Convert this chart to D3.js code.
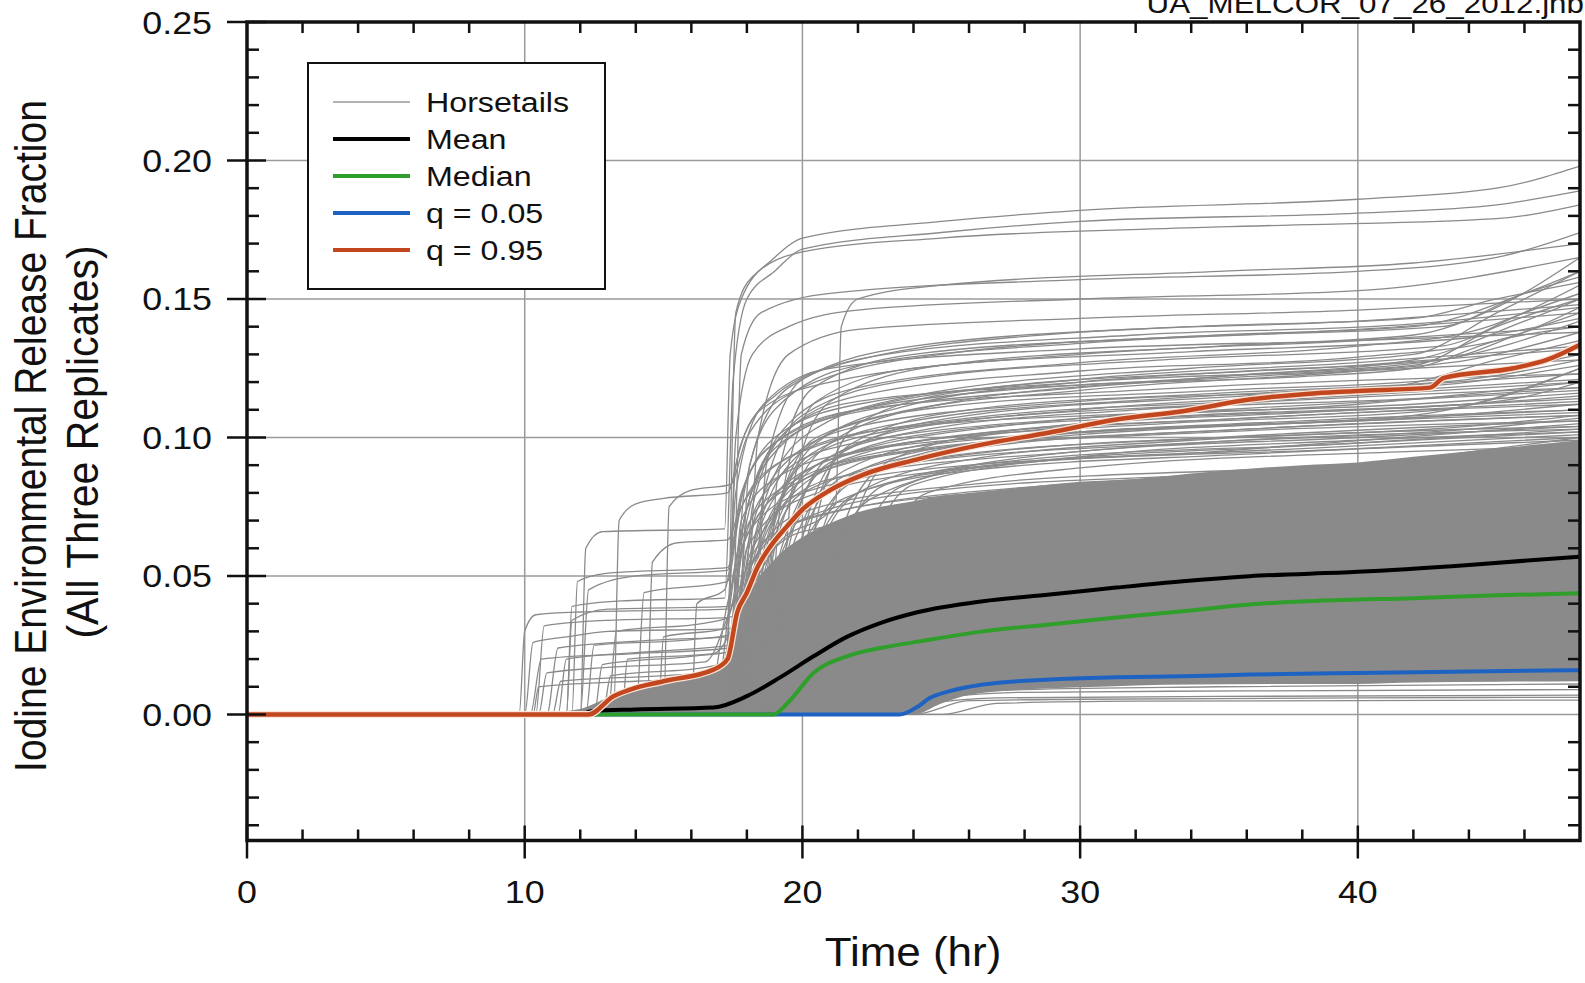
<!DOCTYPE html>
<html>
<head>
<meta charset="UTF-8">
<style>
    * { margin: 0; padding: 0; }
    body { background: #fff; width: 1585px; height: 983px; overflow: hidden; }
    text { font-family: "Liberation Sans", Arial, sans-serif; fill: #111; }
</style>
<script src="https://cdn.jsdelivr.net/npm/d3@7/dist/d3.min.js"></script>
<title>Iodine release fraction</title>
</head>
<body>
<svg id="chart" width="1585" height="983"></svg>
<script>
// ---- data ----
var xMajor = [0, 10, 20, 30, 40];
var yMajor = [0.00, 0.05, 0.10, 0.15, 0.20, 0.25];
var yLabels = ["0.00", "0.05", "0.10", "0.15", "0.20", "0.25"];
var legendNames = ["Horsetails", "Mean", "Median", "q = 0.05", "q = 0.95"];

var meanT = [0, 12, 12.4, 14, 16.8, 18, 19.2, 20.4, 21.6, 22.8, 24.1, 26.5, 28.9, 31.3, 33.7, 36.1, 40, 44, 48];
var meanV = [0, 0, 0.0012, 0.0018, 0.0025, 0.0066, 0.0134, 0.021, 0.028, 0.033, 0.0368, 0.0409, 0.0433, 0.0458, 0.0481, 0.0499, 0.0515, 0.054, 0.057];

var medianT = [0, 18.95, 19.5, 20.4, 21.6, 22.8, 24.1, 26.5, 28.9, 31.3, 33.7, 36.1, 38.5, 42, 45, 48];
var medianV = [0, 0, 0.0045, 0.015, 0.021, 0.024, 0.0262, 0.030, 0.0325, 0.035, 0.0373, 0.0397, 0.041, 0.042, 0.043, 0.0438];

var q05T = [0, 23.5, 24.1, 24.6, 25.3, 26.5, 28.9, 31.3, 33.7, 36.1, 40, 44, 48];
var q05V = [0, 0, 0.0025, 0.006, 0.0084, 0.0108, 0.0126, 0.0134, 0.0138, 0.0144, 0.015, 0.0155, 0.016];

var q95T = [0, 12.3, 13.2, 13.8, 15.0, 16.8, 17.3, 17.65, 18.0, 18.4, 18.85, 19.45, 20.0, 21.0, 22.2, 24.1, 26.5, 28.9, 31.3, 33.7, 36.1, 38.5, 40, 42.6, 43.1, 45.6, 46.8, 48];
var q95V = [0, 0, 0.0066, 0.009, 0.012, 0.0162, 0.0199, 0.0368, 0.044, 0.0535, 0.0607, 0.068, 0.074, 0.081, 0.0866, 0.092, 0.0975, 0.1018, 0.1065, 0.1095, 0.1137, 0.116, 0.1168, 0.118, 0.1215, 0.125, 0.128, 0.1335];

// region that is solid grey because the horsetails overlap
var bandT    = [10, 12, 13, 14, 15, 16, 17, 17.5, 18, 19, 20, 21, 22, 24, 25, 26, 28, 30, 32, 34, 38, 40, 42, 45, 48];
var bandLow  = [0, 0, 0, 0, 0, 0, 0, 0, 0, 0, 0, 0, 0, 0, 0.004, 0.007, 0.009, 0.0098, 0.0105, 0.0108, 0.011, 0.011, 0.0115, 0.0118, 0.012];
var bandHigh = [0, 0.002, 0.006, 0.009, 0.011, 0.013, 0.016, 0.03, 0.042, 0.056, 0.064, 0.069, 0.073, 0.077, 0.079, 0.080, 0.082, 0.084, 0.085, 0.087, 0.090, 0.091, 0.093, 0.096, 0.099];

// individual horsetails (time hr, fraction); all sit at 0 before their first point
var horsetails = [
    [[9.8,0],[10.0,0.030],[10.4,0.036],[12,0.037],[17.3,0.038],[17.6,0.090],[18.5,0.110],[21,0.120],[30,0.130],[40,0.135],[48,0.140]],
    [[10.0,0],[10.3,0.026],[11.5,0.028],[13,0.030],[17.4,0.031],[17.8,0.070],[19,0.085],[22,0.095],[30,0.102],[42,0.108],[48,0.125]],
    [[10.2,0],[10.6,0.020],[14,0.022],[17.4,0.024],[18.0,0.060],[20,0.078],[25,0.088],[35,0.095],[48,0.105]],
    [[10.5,0],[10.8,0.015],[13,0.017],[16.5,0.019],[17.5,0.040],[18.5,0.062],[22,0.075],[30,0.082],[48,0.092]],
    [[11.0,0],[11.3,0.012],[15,0.014],[17.4,0.016],[18,0.050],[19.5,0.068],[24,0.080],[40,0.09],[48,0.1]],
    [[11.5,0],[11.7,0.039],[13.5,0.041],[17.2,0.042],[17.5,0.120],[18,0.150],[19,0.160],[20,0.168],[25,0.174],[30,0.178],[40,0.181],[45,0.184],[48,0.189]],
    [[12.0,0],[12.2,0.060],[12.8,0.066],[17.2,0.067],[17.4,0.130],[17.8,0.150],[19,0.165],[20,0.172],[25,0.178],[30,0.182],[40,0.186],[45,0.190],[48,0.198]],
    [[13.2,0],[13.4,0.070],[14,0.076],[15,0.078],[17.3,0.080],[17.8,0.098],[19,0.115],[22,0.128],[30,0.138],[40,0.142],[48,0.148]],
    [[15.0,0],[15.2,0.075],[16,0.081],[17.4,0.083],[18,0.100],[20,0.118],[25,0.130],[35,0.137],[42,0.140],[46,0.152],[48,0.160]],
    [[14.4,0],[14.6,0.055],[15.5,0.062],[17.3,0.063],[18,0.085],[19,0.100],[22,0.112],[30,0.120],[42,0.126],[45,0.14],[48,0.15]],
    [[11.7,0],[11.9,0.048],[13,0.051],[17.3,0.053],[17.9,0.082],[19,0.098],[22,0.110],[32,0.117],[48,0.123]],
    [[12.0,0],[12.3,0.045],[14,0.050],[17.3,0.052],[17.7,0.072],[19,0.090],[23,0.103],[35,0.110],[48,0.117]],
    [[11.5,0],[11.7,0.034],[13,0.038],[17.4,0.039],[18,0.065],[20,0.080],[26,0.090],[40,0.096],[48,0.100]],
    [[10.8,0],[11.2,0.024],[15,0.027],[17.3,0.028],[17.6,0.100],[18.2,0.130],[19.5,0.140],[22,0.146],[30,0.150],[40,0.153],[48,0.165]],
    [[12.5,0],[12.8,0.018],[16,0.021],[17.5,0.023],[18.2,0.055],[20,0.073],[26,0.083],[40,0.090],[48,0.095]],
    [[13.0,0],[13.3,0.030],[16.5,0.033],[17.6,0.036],[18.3,0.070],[21,0.092],[28,0.105],[40,0.112],[48,0.120]],
    [[16.0,0],[16.2,0.040],[17.2,0.045],[17.8,0.080],[19,0.098],[23,0.112],[35,0.122],[43,0.128],[48,0.142]],
    [[14.0,0],[14.3,0.044],[17.3,0.048],[17.8,0.075],[20,0.095],[26,0.107],[38,0.114],[48,0.12]],
    [[16.5,0],[17.5,0.03],[19,0.06],[21.2,0.076],[21.4,0.140],[22,0.150],[25,0.155],[35,0.160],[42,0.163],[48,0.170]],
    [[17.0,0],[17.3,0.02],[17.6,0.145],[18.2,0.158],[20,0.167],[25,0.172],[35,0.176],[45,0.179],[48,0.184]],
    [[17.2,0],[17.5,0.03],[17.8,0.13],[18.5,0.145],[21,0.152],[30,0.157],[40,0.16],[45,0.165],[48,0.174]],
    [[10.3,0],[10.5,0.010],[14,0.012],[17.3,0.013],[18,0.03],[20,0.05],[25,0.06],[48,0.07]],
    [[12.2,0],[12.5,0.025],[16,0.027],[17.5,0.029],[18,0.045],[20,0.066],[30,0.078],[48,0.085]],
    [[13.5,0],[13.7,0.020],[16.8,0.022],[17.4,0.03],[18.2,0.06],[21,0.085],[30,0.095],[48,0.103]],
    [[10.4,0],[10.7,0.032],[13,0.034],[17.3,0.035],[17.9,0.062],[19.5,0.082],[24,0.095],[36,0.103],[48,0.108]],
    [[11.2,0],[11.5,0.020],[15,0.023],[17.4,0.025],[18.1,0.05],[20,0.07],[28,0.082],[48,0.09]],
    [[12.8,0],[13.1,0.014],[16.5,0.017],[17.5,0.02],[18.3,0.045],[20.5,0.065],[30,0.078],[48,0.086]],
    [[14.8,0],[15.0,0.028],[17.2,0.031],[17.7,0.06],[19,0.08],[23,0.094],[35,0.102],[48,0.106]],
    [[17.0,0],[17.8,0.04],[19,0.075],[21,0.092],[30,0.105],[40,0.110],[48,0.114]],
    [[17.2,0],[18,0.05],[19.5,0.085],[22,0.100],[30,0.110],[40,0.116],[48,0.121]],
    [[17.5,0],[18.2,0.06],[20,0.095],[23,0.108],[30,0.117],[40,0.124],[44,0.128],[48,0.138]],
    [[17.8,0],[18.5,0.05],[20.5,0.090],[24,0.102],[32,0.110],[42,0.114],[48,0.118]],
    [[18.0,0],[18.8,0.045],[21,0.082],[25,0.093],[35,0.100],[48,0.106]],
    [[18.2,0],[19,0.06],[21,0.098],[25,0.112],[35,0.122],[42,0.128],[46,0.142],[48,0.150]],
    [[17.4,0],[18,0.07],[19.5,0.105],[22,0.118],[30,0.127],[40,0.133],[44,0.138],[48,0.155]],
    [[17.6,0],[18.3,0.065],[20,0.100],[24,0.115],[34,0.125],[42,0.130],[45,0.145],[48,0.160]],
    [[18.5,0],[19.3,0.05],[21.5,0.088],[26,0.100],[36,0.107],[48,0.112]],
    [[19.0,0],[19.8,0.05],[22,0.085],[27,0.095],[38,0.101],[48,0.104]],
    [[17.3,0],[17.9,0.08],[19,0.110],[22,0.126],[30,0.134],[40,0.139],[48,0.145]],
    [[17.5,0],[18.1,0.09],[19.5,0.118],[23,0.130],[32,0.137],[42,0.141],[48,0.147]],
    [[18.0,0],[18.6,0.08],[20,0.108],[24,0.121],[33,0.128],[43,0.133],[46,0.145],[48,0.152]],
    [[19.5,0],[20.3,0.05],[22,0.080],[26,0.092],[34,0.099],[44,0.104],[48,0.108]],
    [[20.0,0],[20.8,0.045],[22.5,0.078],[27,0.090],[38,0.097],[48,0.102]],
    [[17.3,0],[18,0.06],[19.3,0.090],[22,0.104],[30,0.113],[41,0.118],[45,0.128],[48,0.135]],
    [[17.7,0],[18.5,0.055],[20,0.087],[23,0.097],[33,0.105],[43,0.110],[48,0.125]],
    [[18.3,0],[19,0.07],[20.5,0.100],[25,0.111],[35,0.117],[43,0.121],[48,0.130]],
    [[17.6,0],[18.2,0.075],[19.5,0.103],[22,0.113],[30,0.119],[38,0.122],[42,0.125],[45,0.135],[48,0.140]],
    [[18.8,0],[19.5,0.06],[21,0.093],[25,0.105],[35,0.112],[48,0.118]],
    [[17.9,0],[18.7,0.06],[20.5,0.098],[24,0.112],[30,0.120],[40,0.126],[44,0.129],[48,0.132]],
    [[16.8,0],[17.5,0.05],[18.5,0.088],[21,0.107],[30,0.118],[40,0.124],[48,0.128]],
    [[16.5,0],[17.3,0.04],[18.5,0.078],[21,0.096],[30,0.107],[42,0.112],[48,0.116]],
    [[18.6,0],[19.2,0.075],[20.5,0.113],[24,0.125],[34,0.131],[44,0.136],[48,0.143]],
    [[19.2,0],[19.9,0.06],[21.5,0.095],[26,0.108],[36,0.115],[44,0.12],[48,0.126]],
    [[20.5,0],[21.2,0.06],[23,0.090],[28,0.100],[38,0.106],[48,0.110]],
    [[17.1,0],[17.6,0.08],[18.6,0.112],[21,0.125],[30,0.132],[40,0.135],[48,0.138]],
    [[18.1,0],[18.7,0.09],[20,0.121],[24,0.133],[34,0.140],[42,0.143],[45,0.150],[48,0.156]],
    [[21.0,0],[21.8,0.05],[23.5,0.082],[29,0.094],[40,0.100],[48,0.104]],
    [[17.4,0],[18.1,0.045],[19.5,0.078],[22,0.092],[30,0.101],[40,0.106],[48,0.109]],
    [[19.8,0],[20.5,0.07],[22,0.105],[26,0.117],[36,0.124],[43,0.128],[46,0.138],[48,0.145]],
    [[18.4,0],[19.1,0.055],[21,0.090],[26,0.101],[36,0.107],[48,0.113]],
    [[17.2,0],[17.8,0.065],[19,0.096],[22,0.110],[30,0.121],[40,0.127],[48,0.133]],
    [[19.0,0],[19.6,0.08],[21,0.113],[25,0.126],[35,0.133],[42,0.137],[45,0.147],[48,0.165]],
    [[17.8,0],[18.4,0.10],[19.5,0.130],[22,0.139],[30,0.143],[40,0.146],[48,0.150]],
    [[18.6,0],[19.4,0.045],[21.5,0.078],[26,0.088],[36,0.094],[48,0.099]],
    [[19.3,0],[20.1,0.05],[22,0.080],[27,0.090],[38,0.096],[48,0.101]],
    [[20.2,0],[21,0.05],[23,0.083],[28,0.092],[40,0.098],[48,0.103]],
    [[18.9,0],[19.7,0.055],[21.5,0.086],[26,0.096],[36,0.103],[48,0.108]],
    [[17.9,0],[18.6,0.05],[20,0.080],[24,0.091],[34,0.098],[44,0.103],[48,0.107]],
    [[21.5,0],[22.3,0.055],[24,0.083],[30,0.093],[40,0.099],[48,0.102]],
    [[22.0,0],[22.8,0.05],[24.5,0.080],[30,0.089],[42,0.095],[48,0.097]],
    [[18.7,0],[19.4,0.06],[21,0.091],[25,0.102],[34,0.108],[44,0.112],[48,0.115]],
    [[19.6,0],[20.4,0.055],[22,0.088],[27,0.099],[37,0.105],[48,0.110]],
    [[17.6,0],[18.3,0.055],[19.8,0.083],[23,0.095],[32,0.103],[42,0.107],[48,0.112]],
    [[20.8,0],[21.6,0.06],[23.2,0.092],[28,0.103],[38,0.109],[45,0.113],[48,0.12]],
    [[18.2,0],[18.9,0.065],[20.3,0.094],[24,0.106],[33,0.114],[42,0.119],[48,0.123]],
    [[19.4,0],[20.2,0.065],[21.8,0.098],[26,0.110],[35,0.116],[44,0.121],[48,0.128]],
    [[17.3,0],[17.9,0.07],[19.2,0.100],[22,0.115],[30,0.124],[40,0.129],[45,0.135],[48,0.147]],
    [[18.5,0],[19.1,0.085],[20.4,0.118],[24,0.130],[33,0.136],[43,0.14],[46,0.152],[48,0.158]],
    [[22,0],[24.5,0.004],[27,0.006],[35,0.0065],[48,0.007]],
    [[23,0],[25,0.006],[28,0.008],[36,0.0085],[48,0.009]],
    [[24,0],[26,0.005],[30,0.0055],[40,0.006],[48,0.0062]],
    [[21,0],[24,0.007],[28,0.009],[35,0.010],[48,0.011]],
    [[25,0],[27,0.004],[32,0.0048],[48,0.0052]]
];

// ---- drawing ----
var svg = d3.select("#chart");
var x = d3.scaleLinear().domain([0, 48]).range([247, 1580]);
var y = d3.scaleLinear().domain([-0.0455, 0.25]).range([840.5, 22]);
var x0 = x(0), x1 = x(48), yTop = y(0.25), yBot = y(-0.0455);

function pairs(ts, vs) { return ts.map(function (t, i) { return [t, vs[i]]; }); }

function label(str, px, py, size, sx, anchor, rot) {
    svg.append("text")
        .attr("transform", "translate(" + px + "," + py + ") scale(" + sx + ",1)" + (rot ? " rotate(" + rot + ")" : ""))
        .attr("text-anchor", anchor)
        .attr("font-size", size)
        .text(str);
}

svg.append("defs").append("clipPath").attr("id", "plot")
    .append("rect").attr("x", x0).attr("y", yTop).attr("width", x1 - x0).attr("height", yBot - yTop);

// grid
var grid = svg.append("g").attr("stroke", "#9a9a9a").attr("stroke-width", 1.5);
xMajor.slice(1).forEach(function (t) {
    grid.append("line").attr("x1", x(t)).attr("x2", x(t)).attr("y1", yTop).attr("y2", yBot);
});
yMajor.slice(0, -1).forEach(function (v) {
    grid.append("line").attr("x1", x0).attr("x2", x1).attr("y1", y(v)).attr("y2", y(v));
});

var plot = svg.append("g").attr("clip-path", "url(#plot)");
var line = d3.line().x(function (d) { return x(d[0]); }).y(function (d) { return y(d[1]); }).curve(d3.curveMonotoneX);

// horsetails
var area = d3.area().x(function (d) { return x(d[0]); })
    .y0(function (d) { return y(d[1]); }).y1(function (d) { return y(d[2]); })
    .curve(d3.curveMonotoneX);
plot.append("path")
    .datum(bandT.map(function (t, i) { return [t, bandLow[i], bandHigh[i]]; }))
    .attr("d", area).attr("fill", "#8a8a8a");

plot.selectAll(".horse").data(horsetails).enter().append("path")
    .attr("class", "horse")
    .attr("d", function (h) { return line([[0, 0]].concat(h)); })
    .attr("fill", "none").attr("stroke", "#8a8a8a").attr("stroke-width", 1.3);

// statistics
plot.append("path").datum(pairs(q05T, q05V)).attr("d", line)
    .attr("fill", "none").attr("stroke", "#1f63c2").attr("stroke-width", 4);
plot.append("path").datum(pairs(medianT, medianV)).attr("d", line)
    .attr("fill", "none").attr("stroke", "#2f9e2a").attr("stroke-width", 4);
plot.append("path").datum(pairs(meanT, meanV)).attr("d", line)
    .attr("fill", "none").attr("stroke", "#000").attr("stroke-width", 4);
plot.append("path").datum(pairs(q95T, q95V)).attr("d", line)
    .attr("fill", "none").attr("stroke", "#fbe3d6").attr("stroke-width", 7);
plot.append("path").datum(pairs(q95T, q95V)).attr("d", line)
    .attr("fill", "none").attr("stroke", "#c2461e").attr("stroke-width", 4.5);

// frame and ticks
var ax = svg.append("g").attr("stroke", "#111").attr("stroke-width", 2.5);
var minorX = d3.range(2, 48, 2).filter(function (t) { return t % 10 !== 0; });
var minorY = d3.range(-4, 25).filter(function (k) { return k % 5 !== 0; }).map(function (k) { return k / 100; });
minorX.forEach(function (t) {
    ax.append("line").attr("x1", x(t)).attr("x2", x(t)).attr("y1", yBot).attr("y2", yBot - 11);
    ax.append("line").attr("x1", x(t)).attr("x2", x(t)).attr("y1", yTop).attr("y2", yTop + 11);
});
xMajor.forEach(function (t) {
    ax.append("line").attr("x1", x(t)).attr("x2", x(t)).attr("y1", yBot - 15).attr("y2", yBot + 18);
});
minorY.forEach(function (v) {
    ax.append("line").attr("x1", x0).attr("x2", x0 + 12).attr("y1", y(v)).attr("y2", y(v));
    ax.append("line").attr("x1", x1).attr("x2", x1 - 12).attr("y1", y(v)).attr("y2", y(v));
});
yMajor.forEach(function (v) {
    ax.append("line").attr("x1", x0 - 20).attr("x2", x0 + 19).attr("y1", y(v)).attr("y2", y(v));
});
svg.append("rect").attr("x", x0).attr("y", yTop).attr("width", x1 - x0).attr("height", yBot - yTop)
    .attr("fill", "none").attr("stroke", "#111").attr("stroke-width", 3.5);

// tick labels
yMajor.forEach(function (v, i) { label(yLabels[i], 212, y(v) + 11.5, 32, 1.12, "end"); });
xMajor.forEach(function (t) { label(String(t), x(t), 903, 32, 1.12, "middle"); });

// axis titles
label("Time (hr)", 913, 966, 40, 1.1, "middle");
label("Iodine Environmental Release Fraction", 46, 436, 39, 1.12, "middle", -90);
label("(All Three Replicates)", 98, 442, 41, 1.1, "middle", -90);
label("UA_MELCOR_07_26_2012.jnb", 1584, 13, 28, 1.12, "end");

// legend
var legColors = ["#999", "#000", "#2f9e2a", "#1f63c2", "#c2461e"];
var legWidths = [1.5, 4, 4, 4, 4];
var leg = svg.append("g");
leg.append("rect").attr("x", 308).attr("y", 63).attr("width", 297).attr("height", 226)
    .attr("fill", "#fff").attr("stroke", "#111").attr("stroke-width", 2);
legendNames.forEach(function (name, i) {
    var ry = 102 + i * 37;
    leg.append("line").attr("x1", 333).attr("x2", 410).attr("y1", ry).attr("y2", ry)
        .attr("stroke", legColors[i]).attr("stroke-width", legWidths[i]);
    label(name, 426, ry + 10, 28, 1.15, "start");
});
</script>
</body>
</html>
